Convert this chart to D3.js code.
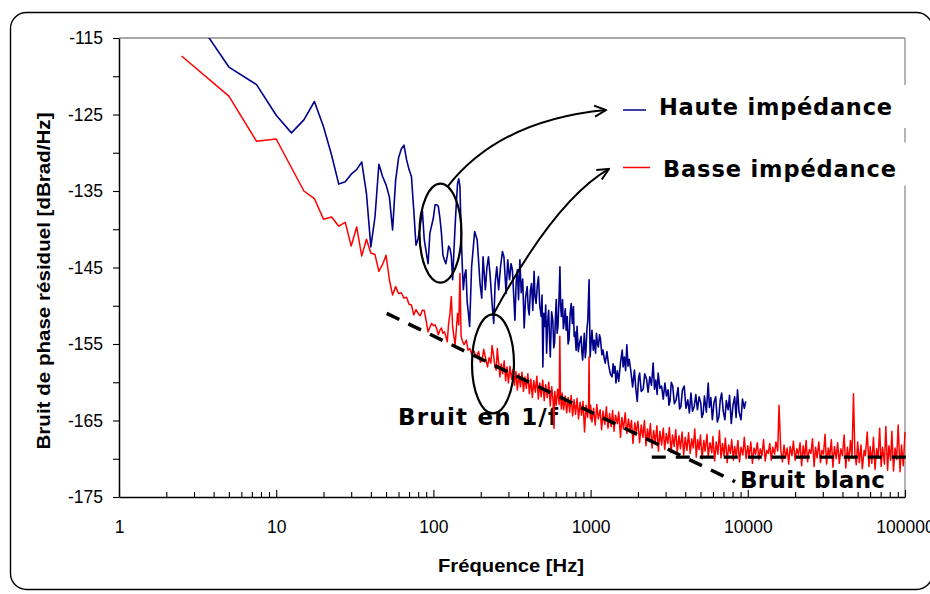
<!DOCTYPE html>
<html><head><meta charset="utf-8">
<script src="https://cdn.jsdelivr.net/npm/d3@7"></script>
<style>body{margin:0;background:#fff}svg{display:block}</style>
</head><body>
<svg id="c" width="930" height="594"></svg>
<script>
// ---------- data ----------
const xTickValues = [1, 10, 100, 1000, 10000, 100000];
const xTickLabels = ["1", "10", "100", "1000", "10000", "100000"];
const yTickValues = [-175, -170, -165, -160, -155, -150, -145, -140, -135, -130, -125, -120, -115];
const yTickLabels = ["-175", "", "-165", "", "-155", "", "-145", "", "-135", "", "-125", "", "-115"];
const seriesNames = ["Haute impédance", "Basse impédance"];

// Haute impédance : [fréquence Hz, dBrad/Hz]
const hauteLow = [[2.5,-109.7],[5,-118.8],[7.5,-121.1],[10,-125.1],[12.5,-127.4],[15,-125.7],[17.5,-123.3],[20,-126.6],[22.5,-130.3],[25,-134.1],[27.5,-133.8],[30,-132.8],[32.5,-132.2],[35,-131.2],[37.5,-135.3],[40,-142.3],[42.5,-138.4],[45,-131.5],[47.5,-133.1],[50,-134.2],[52.5,-135.8],[55,-140.1],[57.5,-133.6],[60,-130.7],[62.5,-129.5],[65,-129.0],[67.5,-130.9],[70,-132.2],[72.5,-133.1],[75,-137.5],[77.5,-142.1],[80,-141.2],[82.5,-139.5],[85,-137.5],[87.5,-141.4],[90,-143.0],[92.5,-144.5],[95,-140.5],[97.5,-139.5],[100,-138.5],[102.5,-136.8],[105,-136.8],[107.5,-137.0],[110,-138.5],[112.5,-140.5],[115,-143.4],[117.5,-144.0],[120,-144.5],[122.5,-143.5],[125,-142.2],[127.5,-142.5],[130,-143.5],[132.5,-146.6],[135,-143.0],[137.5,-139.5],[140,-136.5],[142.5,-134.0],[145,-133.4],[147.5,-134.4],[150,-140.0],[152.5,-144.5],[155,-147.9],[158,-146.0],[161,-145.3],[164,-149.5],[167,-151.0],[170,-152.7],[175,-144.9],[180,-142.0],[183,-140.3],[190,-141.4],[198,-147.1],[203,-149.0],[207,-143.6],[214,-147.9],[219,-145.0],[224,-143.6],[229,-145.8],[237,-150.1],[242,-152.3],[247,-147.1],[253,-144.9],[260,-147.9],[267,-145.0],[275,-142.9],[281,-143.6],[290,-148.4],[297,-144.0],[305,-146.6],[312,-144.5]];
const hauteMid = [[318,-145.3],[324,-148.5],[330,-151.9],[336,-147.0],[342,-145.3],[348,-149.2],[355,-144.0],[362,-148.3],[370,-146.5],[378,-152.9],[386,-148.9],[395,-147.5],[401,-150.3],[407,-151.2],[414,-148.0],[421,-147.1],[429,-150.6],[437,-145.5],[443,-148.8],[450,-149.7],[458,-147.4],[466,-146.2],[475,-150.0],[485,-151.4],[491,-148.6],[497,-158.0],[504,-151.0],[512,-152.7],[518,-149.9],[525,-156.2],[533,-152.0],[541,-150.6],[548,-154.2],[554,-156.7],[565,-150.8],[575,-151.9],[583,-155.5],[590,-154.9],[598,-151.3],[605,-149.2],[612,-153.6],[620,-152.7],[630,-149.0],[638,-144.9],[645,-150.1],[652,-151.4],[663,-149.2],[671,-153.0],[680,-152.0],[690,-150.4],[699,-153.2],[710,-151.4],[719,-155.0],[729,-154.5],[741,-151.0],[753,-149.7],[765,-152.3],[778,-150.1],[786,-154.0],[795,-153.4],[809,-155.8],[820,-152.7],[835,-156.0],[850,-154.9],[870,-154.0],[880,-156.0],[890,-157.1],[912,-153.6],[925,-156.8],[935,-155.8],[948,-153.0],[960,-151.9],[978,-146.6],[993,-156.7],[1020,-153.2],[1040,-155.8],[1055,-154.5],[1075,-156.2],[1090,-153.6],[1105,-154.9],[1120,-155.4],[1140,-153.8],[1155,-154.3],[1180,-156.4],[1200,-155.8],[1220,-156.9],[1240,-157.5],[1270,-156.0],[1300,-157.7],[1335,-158.9],[1370,-159.3],[1390,-157.6],[1410,-158.8],[1430,-157.9],[1450,-160.1],[1480,-158.5],[1510,-159.9],[1550,-157.4],[1590,-155.8],[1610,-158.0],[1640,-156.7],[1670,-158.5],[1700,-155.1],[1730,-157.9],[1760,-157.0],[1800,-158.4],[1850,-160.6],[1900,-158.4],[1940,-160.9]];
const hauteHigh = [[1980,-162.5],[2020,-159.4],[2050,-158.8],[2100,-161.2],[2160,-160.9],[2210,-158.9],[2270,-159.6],[2320,-161.3],[2380,-159.3],[2440,-160.4],[2500,-157.5],[2550,-160.9],[2600,-159.7],[2650,-161.6],[2690,-158.8],[2760,-160.8],[2830,-160.5],[2900,-162.2],[2970,-160.1],[3040,-161.8],[3110,-161.0],[3150,-163.0],[3200,-162.5],[3260,-160.0],[3330,-160.5],[3410,-162.8],[3500,-162.3],[3600,-160.7],[3680,-163.5],[3750,-163.2],[3840,-161.0],[3940,-160.5],[4040,-163.4],[4150,-162.3],[4250,-164.0],[4350,-161.4],[4450,-163.8],[4560,-163.2],[4670,-161.6],[4780,-163.6],[4900,-161.9],[5020,-162.7],[5100,-164.6],[5200,-164.1],[5300,-161.8],[5450,-163.9],[5600,-160.1],[5700,-163.3],[5820,-162.0],[5950,-164.9],[6100,-162.6],[6250,-161.9],[6400,-165.2],[6550,-164.5],[6680,-162.3],[6820,-161.4],[6980,-163.8],[7150,-164.9],[7300,-162.4],[7500,-163.6],[7650,-161.7],[7850,-165.4],[8050,-163.0],[8250,-161.9],[8420,-164.6],[8600,-161.0],[8800,-163.9],[9050,-164.9],[9250,-162.2],[9500,-163.4],[9700,-162.5]];

// Basse impédance : [fréquence Hz, dBrad/Hz]
const basseLow = [[2.5,-117.35],[5,-122.6],[7.5,-128.5],[10,-128.2],[15,-135.0],[17.5,-136.0],[20,-138.7],[22.5,-138.4],[25,-139.6],[27.5,-139.1],[30,-142.2],[32.5,-139.7],[35,-143.5],[37.5,-141.3],[40,-143.1],[42.5,-143.3],[45,-145.5],[47.5,-144.6],[50,-143.4],[52.5,-146.6],[55,-148.6],[57.5,-147.5],[60,-148.4],[62.5,-148.3],[65,-149.0],[67.5,-148.9],[70,-149.8],[72.5,-149.9],[75,-151.2],[77.5,-150.5],[80,-151.0],[82.5,-151.3],[85,-150.6],[87.5,-150.6],[90,-152.0],[92.5,-153.4],[95,-152.8],[97.5,-152.3],[100,-152.6],[102.5,-152.5],[105,-153.0],[107.5,-153.8],[110,-153.2],[112.5,-152.9],[115,-153.6],[117.5,-153.4],[120,-154.0],[122.5,-154.7],[125,-152.3],[127.5,-151.0],[130,-148.8],[132.5,-152.7],[135,-154.0],[137.5,-155.1],[140,-153.0],[142.5,-151.0],[145,-152.5],[147.5,-145.8],[150,-154.0],[153,-154.6],[156.6,-155.1],[162,-154.5],[166,-155.8],[171,-155.6],[175,-156.3],[180,-155.8],[187,-156.7],[194,-156.0],[199,-157.4],[204,-157.1],[209,-155.7],[214,-156.7],[221,-158.0],[226,-156.8],[232,-157.5],[236,-155.2],[241,-156.4],[246,-157.9],[251,-158.4],[255,-155.6],[260,-157.5]];
const basseMid = [[265,-159.3],[270,-157.6],[276,-158.9],[282,-157.2],[288,-159.8],[294,-158.0],[300,-160.1],[307,-157.9],[314,-159.6],[321,-158.3],[328,-160.4],[335,-158.6],[342,-161.0],[350,-158.9],[358,-160.6],[366,-158.7],[374,-161.2],[382,-159.3],[390,-160.8],[399,-158.9],[408,-161.5],[417,-159.6],[426,-162.0],[435,-159.8],[445,-161.3],[455,-159.2],[465,-162.2],[475,-160.1],[485,-161.9],[496,-159.7],[507,-162.4],[518,-160.3],[530,-162.0],[542,-160.0],[554,-163.1],[566,-160.6],[578,-162.6],[585,-166.0],[591,-161.2],[604,-163.0],[617,-160.9],[631,-162.9],[637,-154.0],[643,-161.6],[652,-163.5],[659,-161.4],[674,-163.6],[689,-161.8],[704,-164.0],[720,-162.0],[736,-163.9],[752,-161.7],[768,-164.4],[785,-162.3],[802,-164.2],[820,-162.1],[838,-164.8],[857,-162.6],[876,-164.3],[895,-162.5],[915,-166.5],[935,-163.0],[956,-164.6],[971,-162.9],[978,-156.7],[985,-163.5],[999,-164.8]];
const basseHigh1 = [[1000,-163.0],[1020,-165.2],[1045,-163.4],[1070,-165.6],[1095,-162.9],[1120,-164.8],[1150,-163.6],[1175,-166.2],[1200,-163.8],[1230,-165.5],[1260,-163.2],[1290,-166.0],[1320,-164.1],[1350,-165.8],[1380,-163.7],[1410,-166.4],[1440,-164.3],[1480,-165.4],[1510,-163.9],[1550,-167.2],[1580,-164.6],[1620,-166.1],[1660,-164.0],[1700,-166.7],[1740,-164.8],[1780,-166.3],[1820,-165.0],[1860,-168.0],[1910,-165.3],[1950,-166.6],[2000,-165.1],[2050,-167.9],[2100,-165.6],[2150,-167.2],[2200,-165.0],[2250,-168.3],[2300,-166.1],[2350,-167.6],[2400,-165.4],[2460,-168.6],[2520,-166.3],[2580,-167.9],[2640,-165.7],[2700,-169.0],[2760,-166.4],[2830,-168.2],[2900,-166.0],[2960,-168.8],[3030,-166.7],[3100,-168.0],[3170,-165.9],[3250,-169.2],[3320,-166.9],[3400,-168.4],[3480,-166.2],[3560,-169.1],[3650,-167.0],[3730,-168.7],[3820,-166.5],[3910,-169.5],[4000,-167.2],[4100,-168.9],[4200,-166.6],[4300,-169.3],[4400,-167.4],[4500,-168.6],[4600,-166.1],[4700,-169.8],[4800,-167.5],[4900,-168.8],[5000,-166.9],[5120,-170.0],[5250,-167.6],[5350,-169.0],[5500,-166.8],[5600,-169.7],[5750,-167.9],[5900,-169.2],[6000,-167.1],[6150,-170.3],[6300,-167.8],[6450,-169.4],[6600,-166.3],[6750,-169.9],[6900,-168.0],[7050,-169.6],[7200,-167.3],[7400,-170.5],[7550,-168.2],[7750,-169.3],[7900,-167.5],[8100,-170.2],[8250,-168.4],[8450,-169.7],[8650,-167.6],[8850,-170.4],[9050,-168.5],[9300,-169.5],[9500,-167.2],[9750,-170.0]];
const basseHigh2 = [[10000,-168.3],[10200,-169.8],[10450,-167.8],[10700,-170.6],[10950,-168.6],[11200,-169.4],[11500,-167.9],[11750,-170.1],[12000,-168.7],[12300,-169.6],[12600,-167.5],[12900,-170.3],[13200,-168.9],[13500,-169.3],[13800,-168.0],[14100,-170.2],[14400,-168.5],[14800,-169.4],[15100,-167.8],[15500,-169.0],[15800,-163.0],[16200,-168.8],[16600,-170.4],[17000,-168.2],[17400,-169.9],[17800,-168.6],[18200,-170.7],[18600,-168.4],[19100,-169.6],[19500,-167.7],[20000,-170.2],[20500,-168.7],[21000,-169.5],[21500,-167.9],[22000,-170.9],[22500,-168.3],[23000,-169.8],[23500,-167.6],[24000,-170.4],[24600,-168.8],[25200,-169.3],[25800,-167.4],[26400,-171.0],[27000,-168.5],[27600,-169.9],[28300,-167.8],[29000,-170.5],[29600,-168.9],[30300,-169.4],[31000,-166.8],[31700,-170.7],[32500,-168.6],[33200,-169.7],[34000,-167.5],[34800,-171.1],[35600,-168.4],[36500,-170.0],[37300,-167.9],[38200,-170.6],[39100,-168.7],[40000,-169.6],[41000,-166.9],[42000,-171.2],[43000,-168.5],[44000,-170.3],[45000,-167.6],[46000,-169.8],[47000,-161.5],[48000,-169.4],[49000,-170.8],[50000,-167.8],[51200,-170.5],[52500,-168.2],[53500,-171.3],[55000,-168.9],[56000,-169.6],[57500,-166.5],[59000,-171.0],[60000,-168.4],[61500,-170.6],[63000,-167.2],[64500,-171.4],[66000,-168.7],[67500,-169.9],[69000,-166.0],[70500,-171.0],[72000,-168.5],[74000,-170.7],[75500,-165.8],[77500,-171.5],[79000,-168.3],[81000,-170.2],[82500,-166.4],[84500,-171.6],[86500,-168.6],[88500,-170.1],[90500,-165.6],[93000,-171.7],[95000,-168.2],[97500,-170.9],[100000,-166.5]];

// asymptotes (dashed)
const bruit1f = [[50.5,-151.0],[8300,-173.0]];
const bruitBlanc = [[2450,-169.8],[106000,-169.8]];

// annotations in data units
const ellipseCenters = [[110.9,-140.5],[239.4,-157.6]];
const arrowHaute = [[123.9,-134.35],[265.3,-125.72],[1253,-124.41]];
const arrowBasse = [[239.4,-151.21],[593.6,-136.18],[1309,-132.12]];

// ---------- drawing ----------
const svg = d3.select("#c");
const x = d3.scaleLog().domain([1, 100000]).range([119, 905]);
const y = d3.scaleLinear().domain([-175, -115]).range([497, 38]);
const BLUE = "#00008b", RED = "#ff0000";

// outer frame
svg.append("rect").attr("x", 10.5).attr("y", 12.5).attr("width", 922).attr("height", 577)
  .attr("rx", 16).attr("fill", "none").attr("stroke", "#000").attr("stroke-width", 1.4);

// plot border (top/right, gray)
svg.append("line").attr("x1", x(1)).attr("x2", x(100000)).attr("y1", y(-115)).attr("y2", y(-115))
  .attr("stroke", "#8c8c8c").attr("stroke-width", 1.3);
svg.append("line").attr("x1", x(100000)).attr("x2", x(100000)).attr("y1", y(-115)).attr("y2", y(-175))
  .attr("stroke", "#8c8c8c").attr("stroke-width", 1.3);

const tickFont = "'Liberation Sans', Arial, sans-serif";

// x axis
const minorX = [];
for (let d = 1; d < 100000; d *= 10) for (let k = 2; k <= 9; k++) minorX.push(d * k);
const gxMinor = svg.append("g").attr("transform", `translate(0,${y(-175)})`)
  .call(d3.axisBottom(x).tickValues(minorX).tickSize(-5).tickSizeOuter(0).tickFormat(""));
gxMinor.select(".domain").remove();
const gx = svg.append("g").attr("transform", `translate(0,${y(-175)})`)
  .call(d3.axisBottom(x).tickValues(xTickValues).tickSize(-7).tickSizeOuter(0).tickPadding(24)
    .tickFormat((d, i) => xTickLabels[i]));
svg.selectAll(".tick line").attr("stroke", "#000").attr("stroke-width", 1.1);
gx.select(".domain").attr("stroke", "#000").attr("stroke-width", 1.5);
gx.selectAll("text").attr("font-family", tickFont).attr("font-size", 17.5).attr("fill", "#000");

// y axis
const gy = svg.append("g").attr("transform", `translate(${x(1)},0)`)
  .call(d3.axisLeft(y).tickValues(yTickValues).tickSize(6).tickSizeOuter(0).tickPadding(10)
    .tickFormat((d, i) => yTickLabels[i]));
gy.select(".domain").attr("stroke", "#000").attr("stroke-width", 1.5);
gy.selectAll(".tick line").attr("stroke", "#000").attr("stroke-width", 1.1);
gy.selectAll("text").attr("font-family", tickFont).attr("font-size", 17.5).attr("fill", "#000");

// axis titles
svg.append("text").attr("x", 511).attr("y", 572).attr("text-anchor", "middle")
  .attr("font-family", tickFont).attr("font-weight", "bold").attr("font-size", 19)
  .attr("textLength", 146).attr("lengthAdjust", "spacingAndGlyphs").text("Fréquence [Hz]");
svg.append("text").attr("transform", "translate(50,281) rotate(-90)").attr("text-anchor", "middle")
  .attr("font-family", tickFont).attr("font-weight", "bold").attr("font-size", 17.5)
  .attr("textLength", 337).attr("lengthAdjust", "spacingAndGlyphs").text("Bruit de phase résiduel [dBrad/Hz]");

// annotation texts (under the curves)
const annFont = "'DejaVu Sans', Verdana, sans-serif";
svg.append("text").attr("x", 398).attr("y", 425).attr("font-family", annFont).attr("font-weight", "bold")
  .attr("font-size", 23).attr("textLength", 160).attr("lengthAdjust", "spacing").text("Bruit en 1/f");
svg.append("text").attr("x", 740).attr("y", 488).attr("font-family", annFont).attr("font-weight", "bold")
  .attr("font-size", 23).attr("textLength", 145).attr("lengthAdjust", "spacing").text("Bruit blanc");

// clip
svg.append("clipPath").attr("id", "plot").append("rect")
  .attr("x", x(1)).attr("y", y(-115)).attr("width", x(100000) - x(1) + 1).attr("height", y(-175) - y(-115));

const line = d3.line().x(d => x(d[0])).y(d => y(d[1]));
const hauteImpedance = hauteLow.concat(hauteMid, hauteHigh);
const basseImpedance = basseLow.concat(basseMid, basseHigh1, basseHigh2);

const gData = svg.append("g").attr("clip-path", "url(#plot)");
gData.append("path").datum(hauteImpedance).attr("d", line).attr("fill", "none")
  .attr("stroke", BLUE).attr("stroke-width", 1.6).attr("stroke-linejoin", "round");
gData.append("path").datum(basseImpedance).attr("d", line).attr("fill", "none")
  .attr("stroke", RED).attr("stroke-width", 1.5).attr("stroke-linejoin", "round");

// dashed asymptotes
svg.append("path").datum(bruit1f).attr("d", line).attr("fill", "none").attr("stroke", "#000")
  .attr("stroke-width", 3.5).attr("stroke-dasharray", "14,10");
svg.append("path").datum(bruitBlanc).attr("d", line).attr("fill", "none").attr("stroke", "#000")
  .attr("stroke-width", 3.2).attr("stroke-dasharray", "14,10");

// ellipses
svg.selectAll("ellipse.ann").data(ellipseCenters).enter().append("ellipse")
  .attr("cx", d => x(d[0])).attr("cy", d => y(d[1])).attr("rx", 21).attr("ry", 49.5)
  .attr("fill", "none").attr("stroke", "#000").attr("stroke-width", 2.2);

// arrows
const defs = svg.append("defs");
defs.append("marker").attr("id", "arr").attr("viewBox", "0 0 14 14").attr("refX", 12.5).attr("refY", 7)
  .attr("markerWidth", 14).attr("markerHeight", 14).attr("markerUnits", "userSpaceOnUse").attr("orient", "auto")
  .append("path").attr("d", "M1,1.5 L12.5,7 L1,12.5").attr("fill", "none").attr("stroke", "#000")
  .attr("stroke-width", 2).attr("stroke-linejoin", "miter");
function quad(p) {
  const a = [x(p[0][0]), y(p[0][1])], c = [x(p[1][0]), y(p[1][1])], b = [x(p[2][0]), y(p[2][1])];
  return `M${a[0]},${a[1]} Q${c[0]},${c[1]} ${b[0]},${b[1]}`;
}
[arrowHaute, arrowBasse].forEach(p => {
  svg.append("path").attr("d", quad(p)).attr("fill", "none").attr("stroke", "#000")
    .attr("stroke-width", 2).attr("marker-end", "url(#arr)");
});

// legend
const legend = [
  {name: seriesNames[0], color: BLUE, y: 110, x1: 623, x2: 646, tx: 659, ty: 115, len: 233},
  {name: seriesNames[1], color: RED, y: 167.5, x1: 623, x2: 650, tx: 663, ty: 177, len: 233}
];
legend.forEach(l => {
  svg.append("rect").attr("x", 615).attr("y", l.y - 25).attr("width", 300).attr("height", 43).attr("fill", "#fff");
  svg.append("line").attr("x1", l.x1).attr("x2", l.x2).attr("y1", l.y).attr("y2", l.y)
    .attr("stroke", l.color).attr("stroke-width", 1.5);
  svg.append("text").attr("x", l.tx).attr("y", l.ty).attr("font-family", annFont).attr("font-weight", "bold")
    .attr("font-size", 22.5).attr("textLength", l.len).attr("lengthAdjust", "spacing").text(l.name);
});
</script>
</body></html>
